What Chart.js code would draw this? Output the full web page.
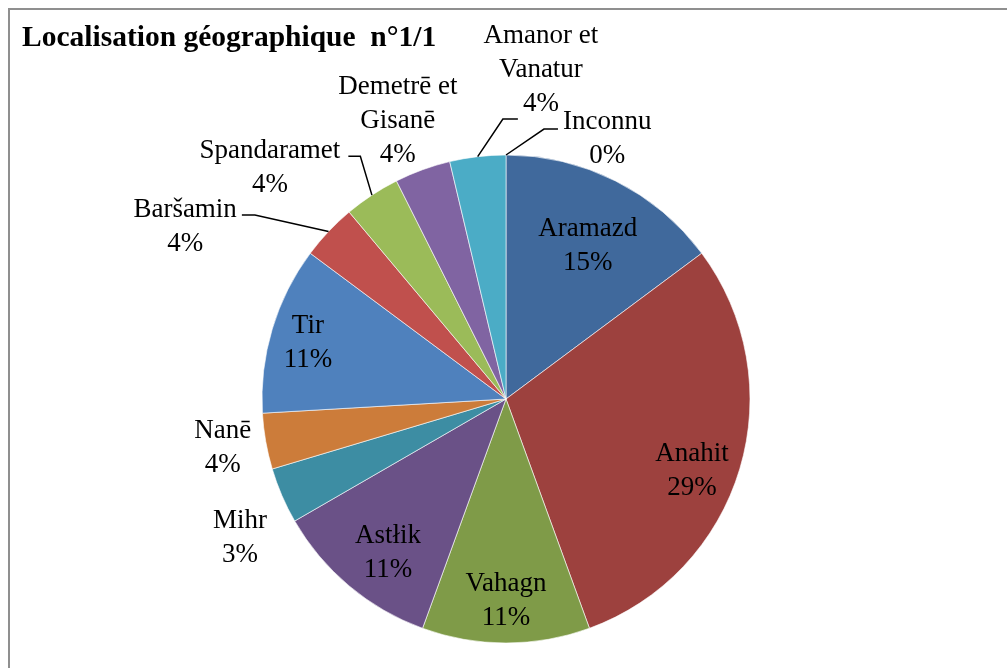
<!DOCTYPE html>
<html>
<head>
<meta charset="utf-8">
<script src="https://cdn.jsdelivr.net/npm/chart.js@4"></script>
<style>
html, body { margin: 0; padding: 0; background: #fff; overflow: hidden; }
#frame { position: absolute; left: 8px; top: 8px; width: 1030px; height: 720px; border: 2px solid #8f8f8f; box-sizing: border-box; }
#wrap { position: absolute; left: 0; top: 0; width: 1007px; height: 668px; }
</style>
</head>
<body>
<div id="frame"></div>
<div id="wrap"><canvas id="chart-1"></canvas></div>
<script>
/* ----- Data ----- */

// Categories (multi-line labels as in the original)
const gods = [
	['Aramazd'], ['Anahit'], ['Vahagn'], ['Astłik'], ['Mihr'], ['Nanē'], ['Tir'],
	['Baršamin'], ['Spandaramet'], ['Demetrē et', 'Gisanē'], ['Amanor et', 'Vanatur'], ['Inconnu']
];

// Number of sites per deity
const counts = [4, 8, 3, 3, 1, 1, 3, 1, 1, 1, 1, 0];

// Percentages as printed on the chart
const shownPercents = ['15%', '29%', '11%', '11%', '3%', '4%', '11%', '4%', '4%', '4%', '4%', '0%'];

const colours = ['#40699c', '#9d413e', '#7f9b48', '#6a5187', '#3d8da3', '#cc7c3a',
	'#4f81bd', '#c0504d', '#9bbb59', '#8064a2', '#4bacc6', '#f79646'];

/* ----- Label Placement ----- */

// distance from centre (x radius) and angle shift (deg) from the slice middle
const labelRadius = [0.715, 0.816, 0.824, 0.792, 1.228, 1.177, 0.845, 1.494, 1.356, 1.226, 1.360, 1.147];
const labelShift = [1.3, 4.2, 0, -2.4, -4.1, 0.4, -0.6, -15.0, -12.2, -1.2, 12.7, 21.2];

// leader lines: which side / line of the label they attach to
const leaders = {
	7: { side: 'right', line: 0, dx: 5, dy: 5, elbow: 13 },
	8: { side: 'right', line: 0, dx: 8, dy: 5, elbow: 12 },
	10: { side: 'left', line: 2, dx: 5, dy: 15, elbow: 15 },
	11: { side: 'left', line: 0, dx: 5, dy: 7, elbow: 14 }
};

const FONT = '27px "Liberation Serif"';
const LINE = 34;

const pieLabels = {
	id: 'pieLabels',
	afterDatasetsDraw(chart) {
		const ctx = chart.ctx;
		const arcs = chart.getDatasetMeta(0).data;
		ctx.save();
		ctx.font = FONT;
		ctx.fillStyle = '#000';
		ctx.textAlign = 'center';
		ctx.textBaseline = 'middle';
		arcs.forEach((arc, i) => {
			const { x, y, startAngle, endAngle, outerRadius } = arc.getProps(['x', 'y', 'startAngle', 'endAngle', 'outerRadius']);
			const mid = (startAngle + endAngle) / 2;
			const a = mid + labelShift[i] * Math.PI / 180;
			const lx = x + Math.cos(a) * outerRadius * labelRadius[i];
			const ly = y + Math.sin(a) * outerRadius * labelRadius[i];
			const lines = gods[i].concat([shownPercents[i]]);
			const top = ly - (lines.length - 1) * LINE / 2 + 1;
			lines.forEach((t, k) => ctx.fillText(t, lx, top + k * LINE));

			const ld = leaders[i];
			if (ld) {
				const w = ctx.measureText(lines[ld.line]).width;
				const ax = ld.side === 'right' ? lx + w / 2 + ld.dx : lx - w / 2 - ld.dx;
				const ay = top + ld.line * LINE + ld.dy;
				const px = x + Math.cos(mid) * outerRadius;
				const py = y + Math.sin(mid) * outerRadius;
				const ex = ax + (px > ax ? ld.elbow : -ld.elbow);
				ctx.beginPath();
				ctx.moveTo(ax, ay);
				ctx.lineTo(ex, ay);
				ctx.lineTo(px, py);
				ctx.strokeStyle = '#000';
				ctx.lineWidth = 1.5;
				ctx.stroke();
			}
		});
		ctx.restore();
	},
	afterDraw(chart) {
		const ctx = chart.ctx;
		ctx.save();
		ctx.font = 'bold 29.5px "Liberation Serif"';
		ctx.fillStyle = '#000';
		ctx.textAlign = 'left';
		ctx.textBaseline = 'alphabetic';
		ctx.fillText('Localisation géographique  n°1/1', 22, 46);
		ctx.restore();
	}
};

/* ----- Define Chart ----- */

const chart = new Chart(document.getElementById('chart-1'), {
	type: 'pie',
	data: {
		labels: gods.map(g => g.join(' ')),
		datasets: [{
			data: counts,
			backgroundColor: colours,
			borderColor: 'rgba(255,255,255,0.6)',
			borderWidth: 1,
			hoverOffset: 0,
			offset: 0
		}]
	},
	options: {
		responsive: true,
		maintainAspectRatio: false,
		events: [],
		animation: false,
		layout: {
			padding: { left: 261.5, right: 256.5, top: 154.5, bottom: 24.5 }
		},
		plugins: {
			legend: { display: false },
			tooltip: { enabled: false }
		}
	},
	plugins: [pieLabels]
});
</script>
</body>
</html>
